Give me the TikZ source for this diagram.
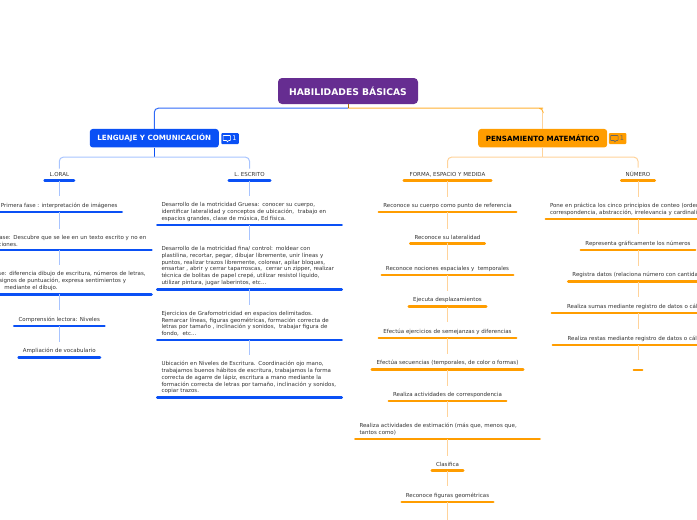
\documentclass[tikz,border=0pt]{standalone}
\usepackage{fontspec}
\setmainfont{DejaVu Sans}
\usepackage{xcolor}
\usetikzlibrary{positioning,calc}
\definecolor{rootpurple}{HTML}{662D91}
\definecolor{lenguajeblue}{HTML}{0A50F5}
\definecolor{lenguajepale}{HTML}{A8C4FF}
\definecolor{mateorange}{HTML}{FF9D00}
\definecolor{matepale}{HTML}{FFD39A}
\definecolor{inktext}{HTML}{333333}

\begin{document}
\begin{tikzpicture}[
    x=1pt, y=-1pt,
    rootbox/.style={fill=rootpurple, rounded corners=4pt, minimum width=140pt, minimum height=26pt,
                inner sep=0pt, text=white, font=\bfseries\fontsize{9.2}{10}\selectfont},
    mainbox/.style={rounded corners=3pt, minimum width=129pt, minimum height=18.5pt, inner sep=0pt,
                font=\bfseries\fontsize{7.15}{8}\selectfont},
    badge/.style={rounded corners=1pt, minimum width=17.5pt, minimum height=11pt, inner sep=0pt,
                font=\fontsize{6.5}{7}\selectfont},
    topic/.style={anchor=south, minimum width=#1, inner xsep=5pt, inner ysep=3.6pt, align=center,
                text=inktext, font=\fontsize{5.5}{6.75}\selectfont},
    textblock/.style={text width=176pt, align=left},
    bluebar/.style={append after command={(\tikzlastnode.south west) edge[line width=2.6pt, line cap=round, lenguajeblue, shorten <=1pt, shorten >=1pt] (\tikzlastnode.south east)}},
    orangebar/.style={append after command={(\tikzlastnode.south west) edge[line width=2.6pt, line cap=round, mateorange, shorten <=1pt, shorten >=1pt] (\tikzlastnode.south east)}},
    bluelink/.style={lenguajepale, line width=1pt, shorten >=2.5pt},
    orangelink/.style={matepale, line width=1pt, shorten >=2.5pt}
]
\useasboundingbox (0,0) rectangle (697,520);

% root and the two branches
\node[rootbox] (root) at (348,91) {HABILIDADES BÁSICAS};
\node[mainbox, fill=lenguajeblue, text=white] (lenguaje) at (154.3,138.2) {LENGUAJE Y COMUNICACIÓN};
\node[mainbox, fill=mateorange, text=black] (pensamiento) at (542.7,138.2) {PENSAMIENTO MATEMÁTICO};
\node[badge, fill=lenguajeblue, text=white] (badgeL) at (230,138.5) {\hspace*{9pt}1};
\node[badge, fill=mateorange, text=black!60] (badgeP) at (617.5,138.5) {\hspace*{9pt}1};
\foreach \b/\c in {badgeL/white, badgeP/black!60} {
    \draw[\c, line width=0.6pt, rounded corners=0.5pt] ($(\b.west)+(2,-3)$) -- ++(7.5,0) -- ++(0,5) -- ++(-2,0) -- ++(-1.5,1.8) -- ++(0,-1.8) -- ++(-4,0) -- cycle;
}

% left side
\node[topic=31pt, bluebar] (oral) at (59.3,180.5) {L.ORAL};
\node[topic=43pt, bluebar] (escrito) at (249.5,180.5) {L. ESCRITO};
\node[topic=126pt, bluebar] (fase1) at (59.3,212) {Primera fase : interpretación de imágenes};
\node[topic=186pt, textblock, bluebar] (fase2) at (59.3,250) {Segunda fase: Descubre que se lee en un texto escrito y no en\\\hspace*{10pt}ilustraciones.};
\node[topic=186pt, textblock, bluebar] (fase3) at (59.3,294.3) {Tercera fase: diferencia dibujo de escritura, números de letras,\\\hspace*{28pt}signos de puntuación, expresa sentimientos y\\\hspace*{33pt}mediante el dibujo.};
\node[topic=92pt, bluebar] (comprension) at (59.3,326) {Comprensión lectora: Niveles};
\node[topic=83pt, bluebar] (vocabulario) at (59.3,357.7) {Ampliación de vocabulario};

\node[topic=186pt, textblock, bluebar] (gruesa) at (249.5,225) {Desarrollo de la motricidad Gruesa: conocer su cuerpo,\\identificar lateralidad y conceptos de ubicación,~ trabajo en\\espacios grandes, clase de música, Ed física.};
\node[topic=186pt, textblock, bluebar] (fina) at (249.5,289.3) {Desarrollo de la motricidad fina/ control: moldear con\\plastilina, recortar, pegar, dibujar libremente, unir líneas y\\puntos, realizar trazos libremente, colorear, apilar bloques,\\ensartar , abrir y cerrar taparroscas,~ cerrar un zipper, realizar\\técnica de bolitas de papel crepé, utilizar resistol líquido,\\utilizar pintura, jugar laberintos, etc...};
\node[topic=186pt, textblock, bluebar] (grafo) at (249.5,340) {Ejercicios de Grafomotricidad en espacios delimitados.\\Remarcar líneas, figuras geométricas, formación correcta de\\letras por tamaño , inclinación y sonidos,~ trabajar figura de\\fondo,~ etc...};
\node[topic=186pt, textblock, bluebar] (niveles) at (249.5,397.7) {Ubicación en Niveles de Escritura. Coordinación ojo mano,\\trabajamos buenos hábitos de escritura, trabajamos la forma\\correcta de agarre de lápiz, escritura a mano mediante la\\formación correcta de letras por tamaño, inclinación y sonidos,\\copiar trazos.};

% right side
\node[topic=89pt, orangebar] (forma) at (447.5,180.5) {FORMA, ESPACIO Y MEDIDA};
\node[topic=35pt, orangebar] (numero) at (638,180.5) {NÚMERO};
\node[topic=139pt, orangebar] (cuerpo) at (447.5,212) {Reconoce su cuerpo como punto de referencia};
\node[topic=76pt, orangebar] (lateralidad) at (447.5,243.3) {Reconoce su lateralidad};
\node[topic=133pt, orangebar] (nociones) at (447.5,275) {Reconoce nociones espaciales y~ temporales};
\node[topic=79pt, orangebar] (desplaza) at (447.5,306.7) {Ejecuta desplazamientos};
\node[topic=139pt, orangebar] (semejanzas) at (447.5,338) {Efectúa ejercicios de semejanzas y diferencias};
\node[topic=153pt, orangebar] (secuencias) at (447.5,369.5) {Efectúa secuencias (temporales, de color o formas)};
\node[topic=119pt, orangebar] (correspond) at (447.5,401) {Realiza actividades de correspondencia};
\node[topic=185pt, textblock, orangebar] (estimacion) at (447.5,439) {Realiza actividades de estimación (más que, menos que,\\tantos como)};
\node[topic=33pt, orangebar] (clasifica) at (447.5,470.5) {Clasifica};
\node[topic=93pt, orangebar] (figuras) at (447.5,502) {Reconoce figuras geométricas};
\coordinate (figurasEnd) at (447.5,520);

\node[topic=186pt, textblock, orangebar] (conteo) at (638,219) {Pone en práctica los cinco principios de conteo (orden estable,\\correspondencia, abstracción, irrelevancia y cardinalidad)};
\node[topic=116pt, orangebar] (representa) at (638,250) {Representa gráficamente los números};
\node[topic=141pt, orangebar] (registra) at (638,281.7) {Registra datos (relaciona número con cantidad)};
\node[topic=174pt, orangebar] (sumas) at (638,313) {Realiza sumas mediante registro de datos o cálculo};
\node[topic=172pt, orangebar] (restas) at (638,345) {Realiza restas mediante registro de datos o cálculo};
\node[topic=10pt, orangebar] (vacio) at (638,370) {};

% connectors
\coordinate (split) at ($(root.south)+(0,4)$);
\draw[matepale, line width=1pt] (pensamiento.north) -- ++(0,-16);
\draw[lenguajeblue!85, line width=1pt, rounded corners=4pt] (split) -| (lenguaje.north);
\draw[mateorange!80, line width=1pt, rounded corners=4pt] (split) -- ++(191,0) -- ++(4,0) -- ++(0,5);
\draw[black!30!mateorange, line width=0.8pt] (root.south) -- (split);
\draw[lenguajeblue, line width=1pt] (lenguaje.south) -- ++(0,9.5);
\draw[lenguajepale, line width=1pt, rounded corners=4pt] ($(lenguaje.south)+(0,9.5)$) -| (oral.north);
\draw[lenguajepale, line width=1pt, rounded corners=4pt] ($(lenguaje.south)+(0,9.5)$) -| (escrito.north);
\draw[matepale, line width=1pt] (pensamiento.south) -- ++(0,9.5);
\draw[matepale, line width=1pt, rounded corners=4pt] ($(pensamiento.south)+(0,9.5)$) -| (forma.north);
\draw[matepale, line width=1pt, rounded corners=4pt] ($(pensamiento.south)+(0,9.5)$) -| (numero.north);

\foreach \a/\b in {oral/fase1, fase1/fase2, fase2/fase3, fase3/comprension, comprension/vocabulario,
                   escrito/gruesa, gruesa/fina, fina/grafo, grafo/niveles}
    \draw[bluelink] (\a.south) -- (\b.north);
\foreach \a/\b in {forma/cuerpo, cuerpo/lateralidad, lateralidad/nociones, nociones/desplaza, desplaza/semejanzas,
                   semejanzas/secuencias, secuencias/correspond, correspond/estimacion, estimacion/clasifica, clasifica/figuras,
                   numero/conteo, conteo/representa, representa/registra, registra/sumas, sumas/restas, restas/vacio}
    \draw[orangelink] (\a.south) -- (\b.north);
\draw[orangelink, shorten >=0pt] (figuras.south) -- (figurasEnd);
\end{tikzpicture}
\end{document}
